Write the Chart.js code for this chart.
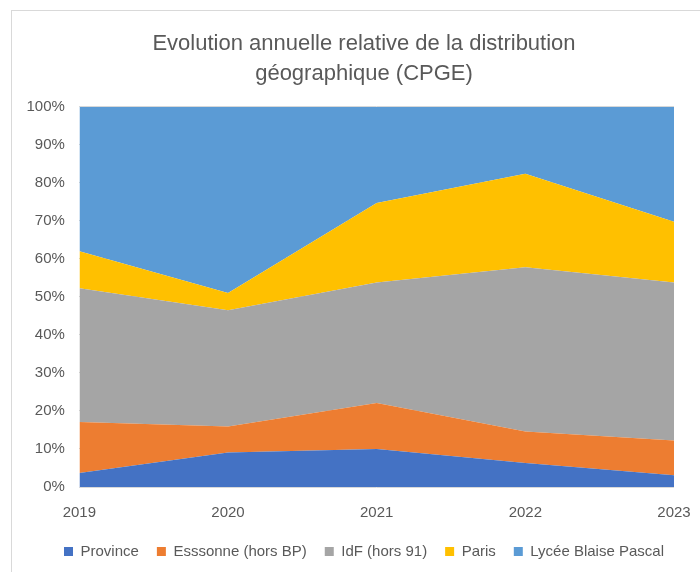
<!DOCTYPE html>
<html>
<head>
<meta charset="utf-8">
<script src="https://cdn.jsdelivr.net/npm/chart.js@4"></script>
<style>
    html, body { margin: 0; padding: 0; background: #fff; overflow: hidden; }
    #frame {
        position: absolute;
        left: 11px;
        top: 10px;
        width: 704px;
        height: 575px;
        border: 1px solid #d9d9d9;
    }
</style>
</head>
<body>
<div id="frame"><canvas id="areaChart"></canvas></div>
<script>
// Categories and shares (%)
const years = ['2019', '2020', '2021', '2022', '2023'];
const province = [3.7, 9.1, 10.0, 6.3, 3.1];
const essonne = [13.4, 6.8, 12.1, 8.3, 9.1];
const idf = [35.2, 30.6, 31.7, 43.2, 41.6];
const paris = [9.7, 4.5, 20.9, 24.6, 16.0];
const lycee = [38.0, 49.0, 25.3, 17.6, 30.2];
const yTicks = [0, 10, 20, 30, 40, 50, 60, 70, 80, 90, 100];

const textColor = '#595959';
const fontFamily = '"Liberation Sans", Arial, sans-serif';

function areaSet(label, data, color, fill) {
    return {
        label: label,
        data: data,
        backgroundColor: color,
        borderColor: color,
        borderWidth: 0,
        pointRadius: 0,
        fill: fill,
        tension: 0
    };
}

const ctx = document.getElementById('areaChart');
new Chart(ctx, {
    type: 'line',
    data: {
        labels: years,
        datasets: [
            areaSet('Province', province, '#4472C4', 'origin'),
            areaSet('Esssonne (hors BP)', essonne, '#ED7D31', '-1'),
            areaSet('IdF (hors 91)', idf, '#A5A5A5', '-1'),
            areaSet('Paris', paris, '#FFC000', '-1'),
            areaSet('Lycée Blaise Pascal', lycee, '#5B9BD5', '-1')
        ]
    },
    options: {
        responsive: true,
        maintainAspectRatio: false,
        animation: false,
        layout: {
            padding: { left: 0, right: 0, top: 12, bottom: 17 }
        },
        plugins: {
            title: {
                display: true,
                text: ['Evolution annuelle relative de la distribution', 'géographique (CPGE)'],
                color: textColor,
                font: { family: fontFamily, size: 22, weight: 'normal', lineHeight: 1.36 },
                padding: { top: 6, bottom: 18 }
            },
            legend: {
                position: 'bottom',
                labels: {
                    color: textColor,
                    font: { family: fontFamily, size: 15 },
                    boxWidth: 9,
                    boxHeight: 9,
                    padding: 18
                }
            },
            tooltip: { enabled: false }
        },
        scales: {
            x: {
                offset: false,
                grid: { display: false, drawTicks: false },
                border: { display: false },
                ticks: {
                    color: textColor,
                    font: { family: fontFamily, size: 15 },
                    maxRotation: 0,
                    padding: 17
                },
                // keep the labels where they are but leave less room below them
                afterFit: axis => { axis.height = 39; }
            },
            y: {
                stacked: true,
                min: 0,
                max: 100,
                afterBuildTicks: axis => {
                    axis.ticks = yTicks.map(v => ({ value: v }));
                },
                grid: { color: '#d9d9d9', drawTicks: false },
                border: { display: false },
                ticks: {
                    color: textColor,
                    font: { family: fontFamily, size: 15 },
                    padding: 14.5,
                    callback: v => v + '%'
                }
            },
            // empty axis on the right, only reserves the margin after 2023
            rightGap: {
                type: 'linear',
                position: 'right',
                grid: { display: false },
                border: { display: false },
                ticks: { display: false },
                afterFit: axis => { axis.width = 42; }
            }
        }
    }
});
</script>
</body>
</html>
